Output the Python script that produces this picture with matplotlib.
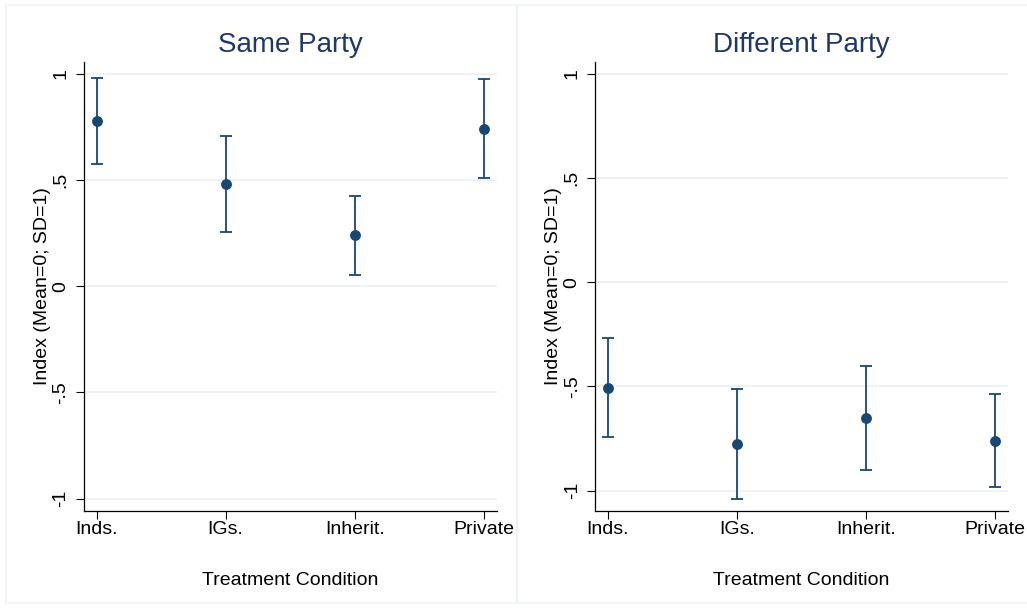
import matplotlib
matplotlib.use("Agg")
import matplotlib.pyplot as plt
from matplotlib.patches import Rectangle

plt.rcParams['font.family'] = ['Liberation Sans', 'DejaVu Sans']

categories = ["Inds.", "IGs.", "Inherit.", "Private"]
same_mean = [0.777, 0.481, 0.241, 0.741]
same_lo = [0.575, 0.256, 0.053, 0.508]
same_hi = [0.978, 0.707, 0.424, 0.973]
diff_mean = [-0.506, -0.776, -0.652, -0.762]
diff_lo = [-0.742, -1.038, -0.899, -0.982]
diff_hi = [-0.269, -0.514, -0.402, -0.538]
yticks = [-1, -0.5, 0, 0.5, 1]
ytick_labels = ["-1", "-.5", "0", ".5", "1"]

W, H = 1027, 608
fig = plt.figure(figsize=(W / 100, H / 100), dpi=100)

navy = "#1a476f"
title_col = "#1f3864"
grid_col = "#eaf1f4"
frame_col = "#edf2f5"

# panel frames
for (x0, x1) in [(5.5, 517), (517, 1032)]:
    fig.patches.append(Rectangle((x0 / W, (H - 603) / H), (x1 - x0) / W, (603 - 5) / H,
                                 transform=fig.transFigure, fill=False,
                                 edgecolor=frame_col, linewidth=1.2))

panels = [
    ("Same Party", same_mean, same_lo, same_hi, 83.7, (-1.0565, 1.0536)),
    ("Different Party", diff_mean, diff_lo, diff_hi, 595.0, (-1.096, 1.0547)),
]

for title, mean, lo, hi, xpix, ylim in panels:
    ax = fig.add_axes([xpix / W, (H - 510.7) / H, 413 / W, 448.4 / H])
    x = list(range(1, len(categories) + 1))
    yerr = [[m - l for m, l in zip(mean, lo)], [h - m for m, h in zip(mean, hi)]]
    for yt in yticks:
        ax.axhline(yt, color=grid_col, linewidth=1.3, zorder=0)
    ax.errorbar(x, mean, yerr=yerr, fmt='o', color=navy, ecolor=navy,
                markersize=6.8, elinewidth=1.3, capsize=4.2, capthick=1.3, zorder=3)
    ax.set_xlim(0.9, 4.1)
    ax.set_ylim(*ylim)
    ax.set_xticks(x)
    ax.set_xticklabels(categories, fontsize=14)
    ax.set_yticks(yticks)
    ax.set_yticklabels(ytick_labels, fontsize=14, rotation=90, va='center')
    ax.tick_params(axis='x', length=5.8, width=0.8, pad=1.5, colors='black')
    ax.tick_params(axis='y', length=5.8, width=0.8, pad=4.5, colors='black')
    for s in ['top', 'right']:
        ax.spines[s].set_visible(False)
    for s in ['left', 'bottom']:
        ax.spines[s].set_linewidth(0.9)
        ax.spines[s].set_color('black')
    ax.set_title(title, fontsize=20, color=title_col, pad=7.5)
    ax.set_xlabel("Treatment Condition", fontsize=14)
    ax.xaxis.set_label_coords(0.5, -0.1377)
    ax.set_ylabel("Index (Mean=0; SD=1)", fontsize=14)
    ax.yaxis.set_label_coords(-0.079, 0.5)
    ax.set_facecolor('white')

fig.savefig("out.png", dpi=100, facecolor='white')
